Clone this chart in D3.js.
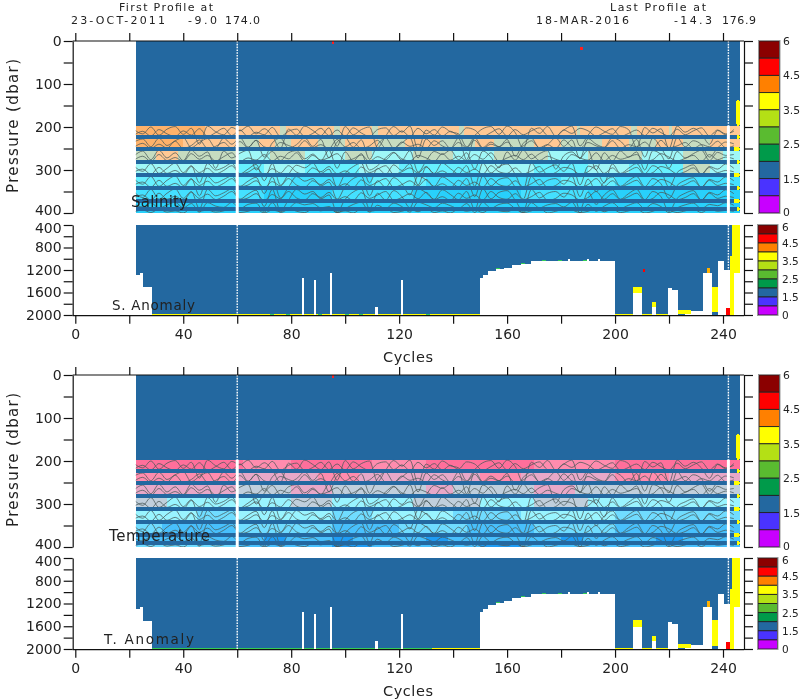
<!DOCTYPE html>
<html><head><meta charset="utf-8">
<script src="https://cdn.jsdelivr.net/npm/d3@7"></script>
<style>html,body{margin:0;background:#fff}svg{display:block;filter:blur(.35px)}text{font-family:"DejaVu Sans",sans-serif;fill:#222}</style>
</head><body><svg id="c" width="800" height="700"></svg>
<script>
const cycleTicks=[0,20,40,60,80,100,120,140,160,180,200,220,240];
const cycleLabels=[0,40,80,120,160,200,240];
const upperTicks=[0,50,100,150,200,250,300,350,400];
const upperLabels=[0,100,200,300,400];
const lowerTicks=[400,600,800,1000,1200,1400,1600,1800,2000];
const lowerLabels=[400,800,1200,1600,2000];
const firstCycle=22.4, lastCycle=246.2, gapCycles=[60,242];
const barPressures=[223,251,281,312,342,372,391];
const bandEdges=[197,223,251,281,312,342,372,391,400];
const salinityColors=['#ffb26a','#ffc894','#c6dcc0','#9ff7f7','#66f0ff','#44e0ff','#28d0fb'];
const temperatureColors=['#ff6f9b','#ff8cae','#e8a8c8','#c0cfdc','#99f4ff','#70dcff','#48c0fc','#1e9cf4'];
const salinityBands=[
 [[22,0],[48,1],[76,2],[78,1],[96,2],[98,1],[110,2],[112,1],[142,2],[144,1],[186,2],[187,1],[206,2],[208,1],[220,2],[221,1]],
 [[22,0],[40,1],[60,2],[68,1],[74,2],[80,1],[90,2],[100,1],[112,2],[122,1],[135,2],[148,1],[155,2],[170,1],[180,2],[195,1],[205,2],[215,1],[225,2],[235,1]],
 [[22,2],[30,1],[38,2],[60,3],[72,2],[85,3],[100,2],[110,3],[125,2],[140,3],[155,2],[175,3],[190,2],[210,3],[225,2],[240,3]],
 [[22,3],[60,4],[70,3],[85,4],[105,3],[120,4],[150,3],[170,4],[190,3],[205,4],[225,2],[235,3]],
 [[22,4],[80,5],[110,4],[130,5],[180,4],[200,5]],
 [[22,5],[70,6],[95,5],[125,6],[165,5],[190,6]],
 [[22,6]],[[22,6]]];
const temperatureBands=[
 [[22,0],[62,1],[80,0],[110,1],[130,0],[170,1],[200,0]],
 [[22,1],[60,2],[90,1],[105,2],[150,1],[165,2],[200,1],[220,2]],
 [[22,2],[60,3],[80,2],[95,3],[130,2],[140,3],[170,2],[185,3]],
 [[22,3],[34,4],[80,3],[95,4],[125,3],[150,4],[170,3],[190,4]],
 [[22,4],[45,5],[60,4],[95,5],[110,4],[140,5],[165,4],[200,5]],
 [[22,5],[32,6],[60,5],[95,6],[120,5],[145,6],[170,5],[200,6]],
 [[22,6],[70,7],[78,6],[95,7],[103,6],[130,7],[138,6],[180,7],[188,6],[215,7],[225,6]],
 [[22,5],[60,6],[95,7],[110,6],[150,7],[165,6]]];
// Contour traces estimated by eye from the salinity panel, one point every 3 cycles from cycle 22
const contourStep=3;
const contour1=[207,216,200,219,205,199,217,203,240,198,211,218,201,209,198,216,204,221,250,205,219,198,208,220,202,245,199,218,206,200,248,221,199,212,198,252,207,219,200,211,216,246,220,204,199,217,198,213,250,203,215,199,221,207,198,244,219,200,210,217,199,206,248,201,214,204,250,198,212,203,216,240,208,218,206];
const contour2=[218,210,221,206,216,222,209,219,204,222,213,203,220,207,222,212,218,201,222,210,205,222,215,203,220,207,221,202,214,222,206,202,220,209,222,203,216,206,221,210,219,202,207,222,213,204,221,206,218,209,202,220,222,207,215,203,209,221,213,204,222,215,207,220,203,213,221,205,218,209,202,221,207,216,210];
const contour3=[234,228,246,226,243,232,225,248,236,227,249,226,240,225,247,231,270,237,226,249,241,225,245,229,272,235,225,247,230,275,241,226,249,237,225,272,228,243,232,250,226,276,225,248,235,246,229,268,238,226,249,241,225,245,230,274,227,240,247,225,233,250,229,270,226,248,274,225,246,232,241,270,249,235,239];
const contour4=[246,238,250,240,249,233,250,243,230,250,245,236,250,234,248,231,246,250,236,243,249,232,248,241,250,229,246,236,250,244,231,249,250,235,245,240,250,232,244,250,236,248,231,250,240,246,235,250,244,232,248,241,250,230,246,250,236,244,248,232,250,241,246,235,250,231,248,244,236,250,241,246,233,248,244];
const contour5=[266,256,276,254,272,260,278,254,268,258,296,256,272,261,254,300,275,257,278,260,255,274,263,278,254,296,258,279,262,300,290,272,259,277,255,305,279,257,264,254,276,260,298,256,270,295,258,277,254,274,262,255,298,267,258,272,254,300,260,279,256,270,258,300,255,264,296,257,272,262,254,278,259,266,264];
const contour6=[276,268,280,264,278,271,280,262,275,266,279,269,260,280,272,277,264,279,268,274,260,280,266,277,271,262,278,274,265,280,269,276,260,274,279,266,272,280,262,277,268,278,264,275,260,280,272,266,276,263,278,268,275,280,264,272,277,260,279,266,275,270,264,280,276,262,270,279,273,266,280,264,276,270,274];
const contour7=[292,303,285,308,296,284,306,290,330,285,300,294,284,309,298,287,325,285,335,310,289,295,284,308,298,340,308,292,284,330,296,310,288,301,285,335,293,308,284,297,309,290,338,284,307,292,286,310,345,284,305,295,288,303,284,335,291,300,330,286,308,296,285,309,290,302,340,306,295,288,310,292,298,286,296];
const contour8=[304,298,310,294,308,301,311,292,306,296,309,301,290,309,305,295,311,297,307,290,305,310,295,304,292,309,302,311,293,306,298,290,310,304,295,307,292,309,302,311,294,306,298,310,290,304,308,295,309,302,292,311,306,294,298,310,304,290,308,295,309,302,294,311,306,292,298,309,304,295,310,294,306,301,304];
const contour9=[322,333,315,338,324,314,336,320,360,315,330,322,314,338,326,317,355,316,365,340,315,326,320,337,328,368,338,320,314,360,325,340,318,332,358,314,323,338,316,327,339,320,362,314,337,322,318,340,368,315,335,324,320,333,314,362,321,350,328,316,338,325,315,339,320,332,366,336,324,318,340,322,328,316,325];
const contour10=[334,328,340,324,338,331,341,322,336,326,339,331,320,339,335,325,341,327,337,320,335,340,325,334,322,339,332,341,323,336,328,320,340,334,325,337,322,339,332,341,324,336,328,340,320,334,338,325,339,332,322,341,336,324,328,340,334,320,338,325,339,332,324,341,336,322,328,339,334,325,340,324,336,331,334];
const contour11=[352,364,345,368,354,344,366,350,390,345,360,353,344,368,356,347,385,345,395,370,345,356,350,367,358,398,368,351,344,390,354,370,348,362,388,344,353,368,346,357,369,350,392,344,367,352,348,370,396,345,365,354,350,363,344,392,351,380,358,346,368,355,345,369,350,362,396,366,354,348,370,352,358,346,355];
const contour12=[364,358,370,354,368,361,371,352,366,356,369,361,350,369,365,355,371,357,367,350,365,370,355,364,352,369,362,371,353,366,358,350,370,364,355,367,352,369,362,371,354,366,358,370,350,364,368,355,369,362,352,371,366,354,358,370,364,350,368,355,369,362,354,371,366,352,358,369,364,355,370,354,366,361,364];
const contour13=[380,386,376,389,381,375,388,378,398,376,384,387,375,390,380,377,398,376,399,390,376,381,378,388,385,399,390,380,375,398,382,390,377,385,398,375,381,388,377,383,390,378,399,375,389,380,377,390,399,376,388,381,378,386,375,399,380,396,384,376,389,382,376,390,378,385,399,388,381,377,390,380,383,376,382];
const contour14=[397,393,399,391,398,395,400,389,396,393,398,395,389,399,396,391,400,393,397,389,396,399,391,395,389,399,395,400,390,396,393,389,399,396,391,397,389,399,395,400,391,396,393,399,389,395,397,391,399,395,389,400,396,391,393,399,396,389,397,391,399,395,391,400,396,389,393,399,395,391,399,390,396,394,396];
const contours=[contour1,contour2,contour3,contour4,contour5,contour6,contour7,contour8,contour9,contour10,contour11,contour12,contour13,contour14];
// White parts of the lower panels: start cycle, end cycle, pressure where data stops
const voidStart=[22.4,24,25.1,84,88.4,94.2,111.2,120.7,149.8,151,153,156,159,162,165,169,182.7,183.3,189.7,190.3,193.7,194.3,206.7,213.6,219.6,221,226,228,232.5,238,240.2,244];
const voidEnd=[24,25.1,28.3,84.9,89.2,95,112,121.3,151,153,156,159,162,165,169,182.7,183.3,189.7,190.3,193.7,194.3,199.8,210,215.3,221,223.2,228,232.5,236,240.2,242.5,246.5];
const voidTop=[1289,1253,1502,1342,1378,1253,1858,1378,1344,1297,1226,1191,1156,1103,1085,1033,998,1033,998,1033,998,1033,1609,1852,1520,1556,1964,1929,1253,1040,1200,1253];
// Yellow (flag 4) patches of the lower panels
const patchStart=[200,206.7,210,213.6,215.3,223.2,236,243.3,242.5];
const patchEnd=[206.7,210,213.6,215.3,219.6,228,238,246.2,244];
const patchTop=[1975,1497,1975,1769,1975,1911,1497,400,950];
const patchBottom=[2000,1609,2000,1852,2000,1980,1950,1253,2000];
const greenCycles=[72,78,90,100,105,130,156,165,173,179,188];
const greenPressures=[1985,1985,1985,1985,1985,1985,1170,1070,1020,1020,1020];
const colorbarColors=['#8b0000','#ff0000','#ff8000','#ffff00','#b4e015','#5abb30','#009a4a','#2368a0','#4a33ff','#c800ff'];
const colorbarLabels=['6','4.5','3.5','2.5','1.5','0'];
const salinityRedCycles=[187,95], salinityRedPressures=[14,0];
const temperatureRedCycles=[95], temperatureRedPressures=[0];

const svg=d3.select('#c');
const x=d3.scaleLinear().domain([0,240]).range([75.3,723]);
const BLUE='#2368a0',YEL='#ffff00';
let clipId=0;
const pane=(y0,y1,y2,y3,colors,bands,stripSplit,stripColor,name,anom,nx,na,wn,wa,ny,ay,redAnom,redC,redP)=>{
  const yU=d3.scaleLinear().domain([0,400]).range([y0,y1]);
  const yL=d3.scaleLinear().domain([400,2000]).range([y2,y3]);
  const g=svg.append('g');
  const rect=(c0,c1,p0,p1,f,sc=yU)=>g.append('rect').attr('x',x(c0)).attr('width',Math.max(0,x(c1)-x(c0))).attr('y',sc(p0)).attr('height',Math.max(0,sc(p1)-sc(p0))).attr('fill',f).attr('shape-rendering','crispEdges');
  // upper panel
  rect(firstCycle,lastCycle,0,197,BLUE);
  bands.forEach((segs,i)=>segs.forEach((s,j)=>{
    const e=j+1<segs.length?segs[j+1][0]:lastCycle;
    rect(Math.max(s[0],firstCycle),e,bandEdges[i],bandEdges[i+1],colors[s[1]]);
  }));
  const id='clip'+(clipId++);
  g.append('clipPath').attr('id',id).append('rect').attr('x',x(firstCycle)).attr('width',x(lastCycle)-x(firstCycle)).attr('y',yU(197)).attr('height',yU(400)-yU(197));
  const line=d3.line().x((d,i)=>x(22+i*contourStep)).y(d=>yU(d)).curve(d3.curveMonotoneX);
  g.append('g').attr('clip-path',`url(#${id})`).selectAll('path').data(contours).join('path').attr('d',line).attr('fill','none').attr('stroke','#4a5a5a').attr('stroke-opacity',.85).attr('stroke-width',.9);
  barPressures.forEach(p=>rect(firstCycle,lastCycle,p-4.5,p+4.5,BLUE));
  rect(245,lastCycle,137,197,YEL).attr('rx',1.5);
  barPressures.forEach((p,i)=>rect(i%2?244:245,lastCycle,p-5,p+5,YEL).attr('rx',2));
  redC.forEach((c,i)=>rect(c,c+1,redP[i],redP[i]+7,'#ff2020'));
  // lower panel
  rect(firstCycle,lastCycle,400,2000,BLUE,yL);
  if(stripSplit>28.3) rect(28.3,stripSplit,1975,2000,stripColor,yL);
  rect(Math.max(stripSplit,28.3),149.8,1975,2000,YEL,yL);
  voidStart.forEach((c,i)=>rect(c,voidEnd[i],voidTop[i],2000,'#fff',yL));
  patchStart.forEach((c,i)=>rect(c,patchEnd[i],patchTop[i],patchBottom[i],YEL,yL));
  rect(241,242.5,1876,2000,'#ff0000',yL).attr('rx',1);
  rect(234,235,1164,1253,'#ffb000',yL);
  greenCycles.forEach((c,i)=>rect(c,c+1.5,greenPressures[i],greenPressures[i]+18,'#33cc55',yL));
  if(redAnom) rect(210.3,211,1180,1240,'#ff0000',yL);
  // missing cycles
  gapCycles.forEach(c=>{
    g.append('line').attr('x1',x(c)).attr('x2',x(c)).attr('y1',yU(0)).attr('y2',yU(197)).attr('stroke','#fff').attr('stroke-width',1.4).attr('stroke-dasharray','1.6 1.2');
    g.append('line').attr('x1',x(c)).attr('x2',x(c)).attr('y1',yU(197)).attr('y2',yU(400)).attr('stroke','#fff').attr('stroke-width',3);
    g.append('line').attr('x1',x(c)).attr('x2',x(c)).attr('y1',yL(400)).attr('y2',c===60?yL(2000):yL(1200)).attr('stroke','#fff').attr('stroke-width',1.4).attr('stroke-dasharray','1.6 1.2');
  });
  // axes
  const style=s=>{s.selectAll('path,line').attr('stroke','#111').attr('stroke-width',1.2);s.selectAll('text').attr('font-size',14).attr('fill','#222');};
  const xDom=[72.7,744];
  const ax=(gen,tx,ty)=>g.append('g').attr('transform',`translate(${tx},${ty})`).call(gen).call(style);
  const t=d3.axisTop(x).tickValues(cycleTicks).tickFormat('').tickSize(8).tickSizeOuter(0);
  ax(t,0,y0).select('.domain').attr('d',`M${xDom[0]},0H${xDom[1]}`);
  const b=d3.axisBottom(x).tickValues(cycleTicks).tickSize(8).tickSizeOuter(0).tickPadding(5).tickFormat(d=>cycleLabels.includes(d)?d:'');
  ax(b,0,y3+.7).select('.domain').attr('d',`M${xDom[0]},0H${xDom[1]}`);
  const lU=d3.axisLeft(yU).tickValues(upperTicks).tickSize(9).tickSizeOuter(0).tickPadding(2).tickFormat(d=>upperLabels.includes(d)?d:'');
  ax(lU,xDom[0],0).selectAll('text').filter(d=>d===400).attr('dy','0.1em');
  const rU=d3.axisRight(yU).tickValues(upperTicks).tickSize(9).tickSizeOuter(0).tickFormat('');
  ax(rU,xDom[1],0);
  const lL=d3.axisLeft(yL).tickValues(lowerTicks).tickSize(9).tickSizeOuter(0).tickPadding(2).tickFormat(d=>lowerLabels.includes(d)?d:'');
  ax(lL,xDom[0],0).selectAll('text').filter(d=>d===400).attr('dy','0.55em');
  const rL=d3.axisRight(yL).tickValues(lowerTicks).tickSize(9).tickSizeOuter(0).tickFormat('');
  ax(rL,xDom[1],0);
  // colorbars
  const cbar=(yA,yB,xL,w,lx,fs,top,bot)=>{
    const by=d3.scaleBand().domain(colorbarColors).range([yA,yB]);
    g.append('g').selectAll('rect').data(colorbarColors).join('rect').attr('x',xL).attr('width',w).attr('y',d=>by(d)).attr('height',by.bandwidth()).attr('fill',d=>d).attr('stroke','#222').attr('stroke-width',.9);
    g.append('rect').attr('x',xL-.5).attr('y',yA-.5).attr('width',w+1).attr('height',yB-yA+1).attr('fill','none').attr('stroke','#999').attr('stroke-width',1);
    const ly=d3.scalePoint().domain(colorbarLabels).range([yA,yB]);
    g.append('g').selectAll('text').data(colorbarLabels).join('text').attr('x',lx).attr('y',d=>ly(d)+4+(d==='6'?top:d==='0'?bot:0)).attr('font-size',fs).attr('font-family','Liberation Sans').text(d=>d);
  };
  cbar(y0,y1,759,20.5,783,10.8,0,-1);
  cbar(y2,y3,758,19.5,782,10.5,1.5,0);
  // labels
  g.append('text').attr('transform',`translate(18,${(y0+y1)/2-1}) rotate(-90)`).attr('text-anchor','middle').attr('font-size',15).attr('textLength',134).attr('lengthAdjust','spacing').text('Pressure (dbar)');
  g.append('text').attr('x',408).attr('y',y3+47).attr('text-anchor','middle').attr('font-size',14.5).attr('textLength',50).text('Cycles');
  g.append('text').attr('x',nx).attr('y',ny).attr('font-size',15).attr('textLength',wn).attr('font-family','Lato').text(name);
  g.append('text').attr('x',na).attr('y',ay).attr('font-size',13.5).attr('textLength',wa).attr('font-family','Lato').text(anom);
};
pane(41,213,225,315,salinityColors,salinityBands,149,YEL,'Salinity','S. Anomaly',131,112,57,83,207,310,true,salinityRedCycles,salinityRedPressures);
pane(375,547,558,649,temperatureColors,temperatureBands,132,'#33cc55','Temperature','T. Anomaly',109,104,101,90,541,644,false,temperatureRedCycles,temperatureRedPressures);
const head=[['First Profile at',119,11,94],['23-OCT-2011',71,24,94],['-9.0',188,24,29],['174.0',225,24,35],['Last Profile at',610,11,96],['18-MAR-2016',536,24,93],['-14.3',674,24,38],['176.9',722,24,34]];
svg.append('g').selectAll('text').data(head).join('text').attr('x',d=>d[1]).attr('y',d=>d[2]).attr('textLength',d=>d[3]).attr('font-size',11).text(d=>d[0]);
</script></body></html>
